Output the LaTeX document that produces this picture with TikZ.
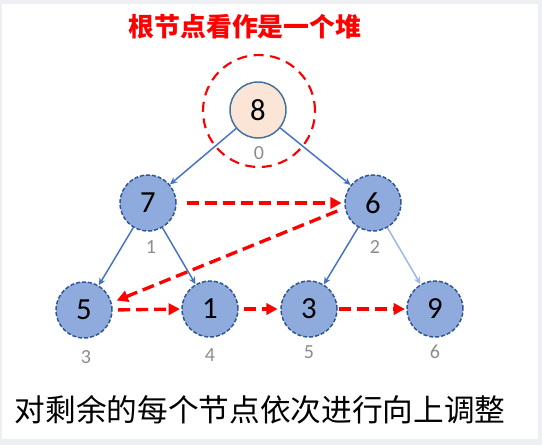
\documentclass[tikz,border=0pt]{standalone}
\usepackage{fontspec}
\setmainfont{Carlito}
\newfontfamily\cjk{Noto Sans CJK SC}
\usetikzlibrary{arrows.meta}
\definecolor{nodefill}{HTML}{8FAADC}
\definecolor{nodeline}{HTML}{2F5597}
\definecolor{rootfill}{HTML}{FBE5D6}
\definecolor{rootline}{HTML}{41719C}
\definecolor{edgeblue}{HTML}{4472C4}
\definecolor{edgelight}{HTML}{9DB6E2}
\definecolor{idxgray}{HTML}{8C8C8C}
\definecolor{framegray}{HTML}{EEEFF3}
\begin{document}
\begin{tikzpicture}[x=0.75pt, y=-0.75pt,
  heapnode/.style={circle, draw=nodeline, fill=nodefill, line width=1.1pt, dash pattern=on 3pt off 1.5pt, minimum size=42pt, inner sep=0pt, font=\fontsize{23}{23}\selectfont},
  rootnode/.style={circle, draw=rootline, fill=rootfill, line width=1.1pt, minimum size=42pt, inner sep=0pt, font=\fontsize{23}{23}\selectfont},
  idx/.style={text=idxgray, inner sep=0pt, font=\fontsize{15}{15}\selectfont},
  tree/.style={draw=edgeblue, line width=1.1pt, -{Stealth[length=5.5pt, width=5pt]}},
  order/.style={draw=red, line width=2.5pt, dash pattern=on 9pt off 4.5pt, -{Triangle[length=8.5pt, width=8.5pt]}}]
\useasboundingbox (0,0) rectangle (542,445);
\fill[framegray] (0,0) rectangle (542,445);
\fill[white] (2,4) rectangle (538,439);
% title
\node[text=red, font=\cjk\bfseries\fontsize{19.4}{19.4}\selectfont] (title) at (245,27) {根节点看作是一个堆};
% nodes
\node[rootnode] (n8) at (258,110) {8};
\node[heapnode] (n7) at (148,203) {7};
\node[heapnode] (n6) at (373,203) {6};
\node[heapnode] (n5) at (84,310) {5};
\node[heapnode] (n1) at (210,309) {1};
\node[heapnode] (n3) at (309,309) {3};
\node[heapnode] (n9) at (435,309) {9};
\node[circle, draw=red, line width=1.6pt, dash pattern=on 7.5pt off 5pt, minimum size=84pt, inner sep=0pt] (heap) at (259,111) {};
% indices
\node[idx] (i0) at (259,153) {0};
\node[idx] (i1) at (151,247) {1};
\node[idx] (i2) at (375,247) {2};
\node[idx] (i3) at (86,357) {3};
\node[idx] (i4) at (210,355) {4};
\node[idx] (i5) at (309,352) {5};
\node[idx] (i6) at (435,352) {6};
% tree edges
\draw[tree] (n8) -- (n7);
\draw[tree] (n8) -- (n6);
\draw[tree] (n7) -- (n5);
\draw[tree] (n7) -- (n1);
\draw[tree] (n6) -- (n3);
\draw[tree, draw=edgelight] (n6) -- (n9);
% order of adjustment
\draw[order, shorten <=8pt, shorten >=2pt] (n7.east) -- (n6.west);
\draw[order, shorten <=6pt, shorten >=4pt] (n6.190) -- (n5.15);
\draw[order, shorten <=4pt, shorten >=1pt] (n5.east) -- (n1.west);
\draw[order, shorten <=4pt, shorten >=2pt] (n1.east) -- (n3.west);
\draw[order, shorten <=1pt, shorten >=1pt] (n3.east) -- (n9.west);
% caption
\node[font=\cjk\fontsize{23}{23}\selectfont] (caption) at (260,410) {对剩余的每个节点依次进行向上调整};
\end{tikzpicture}
\end{document}
